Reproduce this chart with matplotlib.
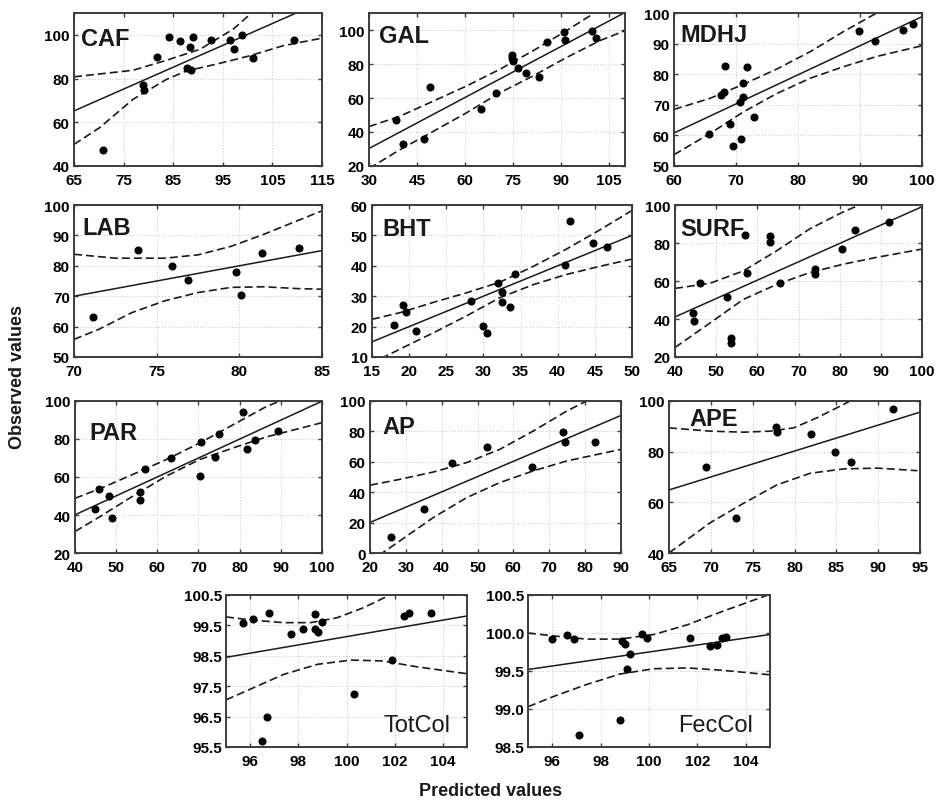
import numpy as np
import matplotlib
matplotlib.use("Agg")
import matplotlib.pyplot as plt
import matplotlib.ticker as mticker

plt.rcParams["font.family"] = ["Liberation Sans", "DejaVu Sans"]

# ---------------------------------------------------------------
#  Data (predicted x, observed y)
# ---------------------------------------------------------------
caf_x = [70.9, 79.0, 79.2, 81.8, 84.1, 86.4, 88.4, 89.0, 87.8, 88.5, 92.7, 96.4, 97.3, 98.8, 101.1, 109.4]
caf_y = [47.3, 76.9, 74.8, 89.9, 99.1, 97.0, 94.5, 99.1, 84.7, 84.1, 97.7, 97.7, 93.7, 99.8, 89.2, 97.7]
caf_fit = [65.2, 115.2]
caf_up_x = [65, 76.9, 83.7, 90.4, 97.1, 100.8, 102]
caf_up_y = [80.8, 83.8, 88.4, 93.4, 102.6, 110, 112]
caf_lo_x = [65, 70.2, 76.9, 83.7, 87.7, 93.7, 100.4, 107.1, 115]
caf_lo_y = [49.9, 57.6, 70.5, 79.7, 83.5, 86.6, 90.4, 95.0, 98.5]

gal_x = [38.4, 40.6, 47.2, 49.1, 65.1, 69.6, 74.6, 74.6, 74.9, 76.5, 79.2, 83.1, 85.7, 90.8, 91.3, 99.8, 101.0]
gal_y = [47.1, 32.7, 35.8, 66.3, 53.7, 63.0, 85.1, 83.4, 81.8, 77.4, 74.7, 72.3, 92.7, 98.6, 94.3, 99.4, 95.2]
gal_fit = [30.3, 110.3]
gal_up_x = [30, 39.4, 49.9, 60.3, 70.8, 81.2, 91.7, 100, 102]
gal_up_y = [43.2, 49.1, 58.0, 66.9, 76.8, 87.7, 99.6, 109.5, 112]
gal_lo_x = [30, 39.4, 49.9, 60.3, 70.8, 81.2, 91.7, 102.1, 110]
gal_lo_y = [18.5, 29.3, 40.2, 51.1, 63.0, 72.9, 83.8, 93.7, 99.6]

mdhj_x = [65.7, 67.6, 68.1, 68.3, 69.0, 69.5, 70.7, 70.8, 71.1, 71.1, 71.7, 72.9, 89.8, 92.4, 96.9, 98.6]
mdhj_y = [60.6, 73.2, 74.3, 82.7, 63.6, 56.5, 71.0, 58.8, 77.0, 72.4, 82.3, 65.9, 94.0, 90.7, 94.4, 96.4]
mdhj_fit = [60.8, 98.8]
mdhj_up_x = [60, 65.8, 71.2, 76.6, 82.0, 87.4, 92.7, 94]
mdhj_up_y = [68.5, 72.1, 76.7, 81.7, 87.4, 94.0, 100, 101.5]
mdhj_lo_x = [60, 65.8, 71.2, 76.6, 82.0, 87.4, 92.7, 100]
mdhj_lo_y = [53.7, 60.6, 67.7, 73.7, 78.7, 82.5, 85.8, 89.3]

lab_x = [71.15, 73.9, 75.9, 76.9, 79.8, 80.1, 81.4, 83.6]
lab_y = [63.0, 85.2, 80.0, 75.3, 78.0, 70.5, 84.2, 86.0]
lab_fit = [70.0, 85.0]
lab_up_x = [70, 72.5, 75.5, 77.5, 79.5, 81.5, 83.5, 85]
lab_up_y = [83.8, 82.5, 82.5, 83.6, 86.4, 90.4, 94.8, 98.1]
lab_lo_x = [70, 71.5, 73.5, 75.5, 77.5, 79.5, 81.5, 83.5, 85]
lab_lo_y = [55.8, 59.1, 64.6, 68.5, 71.2, 72.9, 73.1, 72.5, 72.3]

bht_x = [17.9, 19.2, 19.6, 20.9, 28.3, 29.9, 30.5, 31.9, 32.5, 32.5, 33.6, 34.2, 41.0, 41.6, 44.7, 46.6]
bht_y = [20.5, 27.1, 24.8, 18.7, 28.5, 20.2, 17.8, 34.3, 31.4, 28.0, 26.3, 37.3, 40.2, 54.6, 47.6, 46.3]
bht_fit = [15.0, 50.0]
bht_up_x = [15, 18.8, 23.3, 27.7, 32.2, 36.7, 41.1, 45.6, 50]
bht_up_y = [22.4, 24.6, 28.0, 31.1, 34.6, 39.8, 45.4, 51.7, 58.2]
bht_lo_x = [16.2, 20.1, 23.3, 27.7, 32.2, 36.7, 41.1, 45.6, 50]
bht_lo_y = [9.5, 14.2, 18.0, 23.5, 29.5, 33.8, 37.1, 39.8, 42.2]

surf_x = [44.4, 44.7, 46.1, 52.6, 53.7, 53.7, 56.9, 57.4, 63.1, 63.1, 65.6, 74.1, 74.1, 80.6, 83.8, 92.1]
surf_y = [43.2, 39.1, 58.8, 51.5, 29.9, 27.6, 84.4, 64.1, 83.9, 80.7, 58.8, 66.5, 63.9, 76.8, 86.9, 91.3]
surf_fit = [41.1, 99.1]
surf_up_x = [40, 48.5, 56.6, 64.7, 72.7, 80.8, 84.8, 86]
surf_up_y = [56.1, 58.8, 65.3, 75.9, 87.4, 96.3, 100, 101.5]
surf_lo_x = [40, 48.5, 56.6, 64.7, 72.7, 80.8, 88.9, 100]
surf_lo_y = [25.0, 37.9, 50.3, 58.2, 64.4, 68.8, 72.4, 76.8]

par_x = [44.8, 45.8, 48.2, 48.9, 55.8, 55.8, 56.9, 63.4, 70.4, 70.7, 74.0, 74.9, 80.8, 81.8, 83.7, 89.2]
par_y = [43.4, 53.5, 50.0, 38.2, 52.1, 47.7, 64.3, 70.1, 60.5, 78.3, 70.6, 82.7, 94.2, 74.5, 79.7, 84.4]
par_fit = [40.1, 99.9]
par_up_x = [40, 46.1, 54.1, 62.2, 70.3, 78.4, 86.5, 90.5]
par_up_y = [48.8, 53.9, 61.4, 69.2, 77.9, 87.5, 97.1, 100.6]
par_lo_x = [40, 46.1, 54.1, 62.2, 70.3, 78.4, 86.5, 100]
par_lo_y = [31.3, 39.2, 50.0, 60.5, 69.2, 75.3, 81.1, 88.6]

ap_x = [25.8, 35.0, 43.0, 52.5, 65.3, 73.7, 74.5, 82.7]
ap_y = [10.5, 29.1, 59.0, 69.9, 56.8, 79.6, 73.0, 73.0]
ap_fit = [20.1, 90.5]
ap_up_x = [20, 28.4, 37.7, 47.0, 56.2, 65.5, 74.8, 80.4, 81.5]
ap_up_y = [44.6, 48.5, 53.3, 59.5, 68.2, 80.2, 93.3, 100, 101.5]
ap_lo_x = [22.5, 28.4, 37.7, 47.0, 56.2, 65.5, 74.8, 90]
ap_lo_y = [-1.5, 8.1, 23.4, 36.5, 46.3, 54.0, 60.5, 68.2]

ape_x = [69.4, 73.0, 77.8, 77.9, 82.0, 84.8, 86.8, 91.8]
ape_y = [73.8, 53.9, 89.7, 87.8, 86.9, 80.0, 76.0, 96.7]
ape_fit = [64.9, 95.6]
ape_up_x = [65, 69.9, 73.9, 77.1, 79.9, 82.7, 85.9, 87.2]
ape_up_y = [89.4, 88.1, 87.7, 88.1, 89.4, 93.4, 98.7, 101]
ape_lo_x = [65, 69.9, 73.9, 77.9, 81.9, 85.9, 89.9, 94.7]
ape_lo_y = [40.0, 51.9, 59.6, 66.9, 71.5, 73.2, 73.5, 72.5]

tot_x = [95.7, 96.1, 96.8, 96.5, 96.7, 97.7, 98.2, 98.7, 98.7, 98.8, 99.0, 100.3, 101.9, 102.4, 102.6, 103.5]
tot_y = [99.59, 99.72, 99.91, 95.70, 96.49, 99.21, 99.39, 99.86, 99.39, 99.29, 99.62, 97.23, 98.36, 99.81, 99.90, 99.90]
tot_fit = [98.45, 99.81]
tot_up_x = [95, 96.0, 97.4, 98.5, 99.6, 100.7, 101.8, 102.2]
tot_up_y = [99.78, 99.68, 99.59, 99.59, 99.75, 100.08, 100.5, 100.65]
tot_lo_x = [95, 96.0, 97.4, 98.8, 100.2, 101.5, 102.9, 105]
tot_lo_y = [97.05, 97.40, 97.89, 98.22, 98.36, 98.33, 98.14, 97.91]

fec_x = [96.0, 96.6, 96.9, 97.1, 98.8, 98.9, 99.0, 99.2, 99.1, 99.7, 99.9, 101.7, 102.5, 102.8, 103.0, 103.2]
fec_y = [99.92, 99.97, 99.92, 98.66, 98.86, 99.89, 99.86, 99.73, 99.52, 99.99, 99.93, 99.93, 99.83, 99.84, 99.93, 99.95]
fec_fit = [99.52, 99.98]
fec_up_x = [95, 96.1, 97.4, 98.8, 100.2, 101.6, 103.0, 105]
fec_up_y = [100.0, 99.96, 99.92, 99.92, 99.98, 100.11, 100.28, 100.51]
fec_lo_x = [95, 96.1, 97.4, 98.8, 100.2, 101.6, 103.0, 105]
fec_lo_y = [99.03, 99.17, 99.32, 99.46, 99.53, 99.54, 99.51, 99.45]

# ---------------------------------------------------------------
#  Panel setup: name, data, axis limits/ticks, pixel box
# ---------------------------------------------------------------
FIG_W, FIG_H = 936, 804
INK = "#1a1a1a"
FRAME = "#3c3c3c"

panels = [
    # name, x, y, fit, upper, lower, xlim, xticks, ylim, yticks, box(l, t, r, b), label pos
    ("CAF", caf_x, caf_y, caf_fit, (caf_up_x, caf_up_y), (caf_lo_x, caf_lo_y),
     (65, 115), np.arange(65, 116, 10), (40, 110), np.arange(40, 101, 20), (74, 14, 322, 167), (0.03, 0.91)),
    ("GAL", gal_x, gal_y, gal_fit, (gal_up_x, gal_up_y), (gal_lo_x, gal_lo_y),
     (30, 110), np.arange(30, 106, 15), (20, 110), np.arange(20, 101, 20), (369, 14, 625, 167), (0.04, 0.93)),
    ("MDHJ", mdhj_x, mdhj_y, mdhj_fit, (mdhj_up_x, mdhj_up_y), (mdhj_lo_x, mdhj_lo_y),
     (60, 100), np.arange(60, 101, 10), (50, 100), np.arange(50, 101, 10), (674, 14, 922, 167), (0.025, 0.935)),
    ("LAB", lab_x, lab_y, lab_fit, (lab_up_x, lab_up_y), (lab_lo_x, lab_lo_y),
     (70, 85), np.arange(70, 86, 5), (50, 100), np.arange(50, 101, 10), (74, 206, 322, 358), (0.035, 0.93)),
    ("BHT", bht_x, bht_y, bht_fit, (bht_up_x, bht_up_y), (bht_lo_x, bht_lo_y),
     (15, 50), np.arange(15, 51, 5), (10, 60), np.arange(10, 61, 10), (372, 206, 632, 358), (0.04, 0.92)),
    ("SURF", surf_x, surf_y, surf_fit, (surf_up_x, surf_up_y), (surf_lo_x, surf_lo_y),
     (40, 100), np.arange(40, 101, 10), (20, 100), np.arange(20, 101, 20), (675, 206, 922, 358), (0.02, 0.92)),
    ("PAR", par_x, par_y, par_fit, (par_up_x, par_up_y), (par_lo_x, par_lo_y),
     (40, 100), np.arange(40, 101, 10), (20, 100), np.arange(20, 101, 20), (75, 402, 322, 554), (0.06, 0.87)),
    ("AP", ap_x, ap_y, ap_fit, (ap_up_x, ap_up_y), (ap_lo_x, ap_lo_y),
     (20, 90), np.arange(20, 91, 10), (0, 100), np.arange(0, 101, 20), (370, 402, 621, 554), (0.05, 0.91)),
    ("APE", ape_x, ape_y, ape_fit, (ape_up_x, ape_up_y), (ape_lo_x, ape_lo_y),
     (65, 95), np.arange(65, 96, 5), (40, 100), np.arange(40, 101, 20), (669, 402, 920, 554), (0.08, 0.96)),
    ("TotCol", tot_x, tot_y, tot_fit, (tot_up_x, tot_up_y), (tot_lo_x, tot_lo_y),
     (95, 105), np.arange(96, 105, 2), (95.5, 100.5), np.arange(95.5, 100.6, 1.0), (226, 596, 467, 748), None),
    ("FecCol", fec_x, fec_y, fec_fit, (fec_up_x, fec_up_y), (fec_lo_x, fec_lo_y),
     (95, 105), np.arange(96, 105, 2), (98.5, 100.5), np.arange(98.5, 100.6, 0.5), (528, 596, 770, 748), None),
]

fig = plt.figure(figsize=(FIG_W / 100, FIG_H / 100), dpi=100, facecolor="white")

for (name, xs, ys, fit, up, lo, xlim, xticks, ylim, yticks, box, lab_pos) in panels:
    l, t, r, b = box
    ax = fig.add_axes([l / FIG_W, 1 - b / FIG_H, (r - l) / FIG_W, (b - t) / FIG_H])

    ax.grid(True, color="#c4c4c4", linestyle=(0, (1, 2)), linewidth=0.7, zorder=0)
    ax.plot(up[0], up[1], color=INK, lw=1.2, dashes=(4.8, 2.4), zorder=2)
    ax.plot(lo[0], lo[1], color=INK, lw=1.2, dashes=(4.8, 2.4), zorder=2)
    ax.plot(xlim, fit, color=INK, lw=1.1, zorder=2)
    ax.plot(xs, ys, "o", color="black", markersize=4.8, zorder=3)

    ax.set_xlim(*xlim)
    ax.set_ylim(*ylim)
    ax.set_xticks(xticks)
    ax.set_yticks(yticks)
    ax.tick_params(direction="in", length=3, width=1, color=FRAME,
                   top=True, right=True, labelsize=11)
    ax.tick_params(axis="x", pad=5)
    ax.tick_params(axis="y", pad=3)
    for lbl in ax.get_xticklabels() + ax.get_yticklabels():
        lbl.set_fontweight("bold")
    if name in ("TotCol", "FecCol"):
        ax.yaxis.set_major_formatter(mticker.FormatStrFormatter("%.1f"))
    for sp in ax.spines.values():
        sp.set_color(FRAME)
        sp.set_linewidth(1.4)

    if lab_pos is not None:
        ax.text(lab_pos[0], lab_pos[1], name, transform=ax.transAxes,
                ha="left", va="top", fontsize=17, fontweight="bold", color=INK)
    else:
        ax.text(0.93, 0.07, name, transform=ax.transAxes,
                ha="right", va="bottom", fontsize=17, color=INK)

fig.text(18 / FIG_W, 1 - 377 / FIG_H, "Observed values", rotation=90,
         ha="center", va="center", fontsize=13, fontweight="bold", color=INK)
fig.text(491 / FIG_W, 1 - 792 / FIG_H, "Predicted values",
         ha="center", va="center", fontsize=13, fontweight="bold", color=INK)

fig.savefig("out.png", dpi=100, facecolor="white")
